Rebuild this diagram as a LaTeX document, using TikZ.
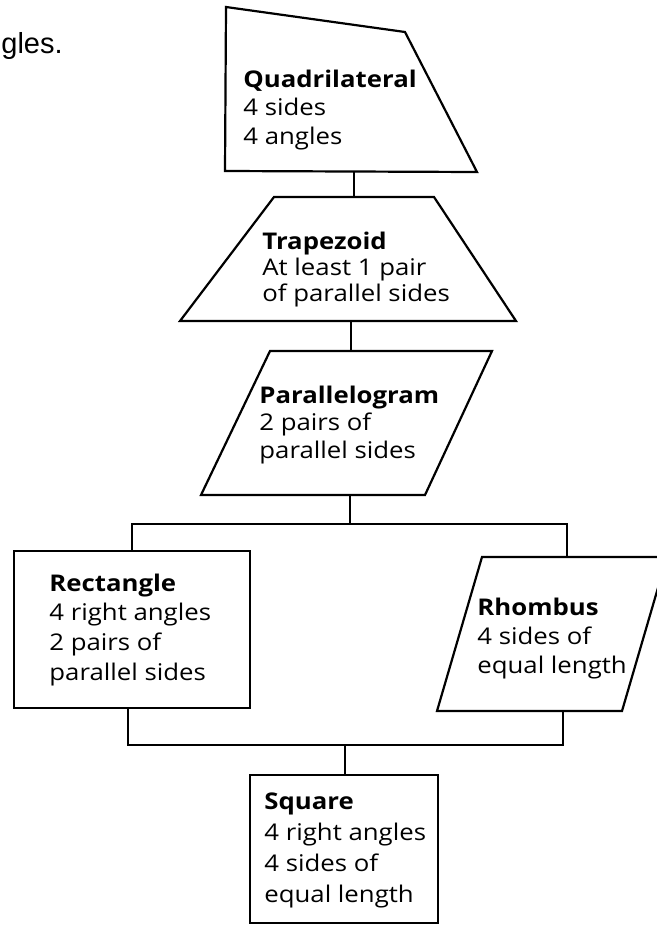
\documentclass[tikz,border=0pt]{standalone}
\usepackage{fontspec}
\setmainfont[FakeStretch=1.12]{Open Sans}
\newfontfamily\glesfont{Liberation Sans}
\begin{document}
\begin{tikzpicture}[x=0.5pt,y=-0.5pt,
    outline/.style={draw,line width=1.1pt,line join=miter},
    link/.style={draw,line width=0.7pt},
    boxtext/.style={anchor=base west,align=left,inner sep=0pt,font=\fontsize{11.5}{#1}\selectfont},
    boxtext/.default=13.5pt]
  \clip (0,0) rectangle (657,926);
  \node[anchor=base west,inner sep=0pt,font=\glesfont\fontsize{14.5}{17}\selectfont] (gles) at (1,54) {gles.};
  % shapes
  \draw[outline] (226,7) -- (405,32) -- (477,172) -- (225,171) -- cycle;
  \draw[outline] (274,197) -- (434,197) -- (516,321) -- (180,321) -- cycle;
  \draw[outline] (270,351) -- (492,351) -- (425,495) -- (201,495) -- cycle;
  \draw[outline] (14,551) rectangle (250,708);
  \draw[outline] (482,557) -- (667,557) -- (622,711) -- (437,711) -- cycle;
  \draw[outline] (250,775) rectangle (438,923);
  % texts (placed at the baseline of their last line)
  \node[boxtext=14.25pt] (quad) at (243,144) {\textbf{Quadrilateral}\\4 sides\\4 angles};
  \node[boxtext=13pt] (trap) at (262,301) {\textbf{Trapezoid}\\At least 1 pair\\of parallel sides};
  \node[boxtext=13.75pt] (para) at (259,458) {\textbf{Parallelogram}\\2 pairs of\\parallel sides};
  \node[boxtext=14.8pt] (rect) at (49,680) {\textbf{Rectangle}\\4 right angles\\2 pairs of\\parallel sides};
  \node[boxtext=14.5pt] (rhomb) at (477,673) {\textbf{Rhombus}\\4 sides of\\equal length};
  \node[boxtext=15.5pt] (sq) at (264,902) {\textbf{Square}\\4 right angles\\4 sides of\\equal length};
  % ends of the connectors
  \coordinate (quad-s) at (354,172);
  \coordinate (trap-n) at (354,197);
  \coordinate (trap-s) at (351,321);
  \coordinate (para-n) at (351,351);
  \coordinate (para-s) at (350,495);
  \coordinate (fork) at (350,524);
  \coordinate (rect-n) at (132,551);
  \coordinate (rhomb-n) at (567,557);
  \coordinate (rect-s) at (128,708);
  \coordinate (rhomb-s) at (563,711);
  \coordinate (join) at (345,745);
  \coordinate (sq-n) at (345,775);
  \path[link] (quad-s) -- (trap-n);
  \path[link] (trap-s) -- (para-n);
  \path[link] (para-s) -- (fork);
  \path[link] (rect-n) |- (fork) -| (rhomb-n);
  \path[link] (rect-s) |- (join) -| (rhomb-s);
  \path[link] (join) -- (sq-n);
\end{tikzpicture}
\end{document}
